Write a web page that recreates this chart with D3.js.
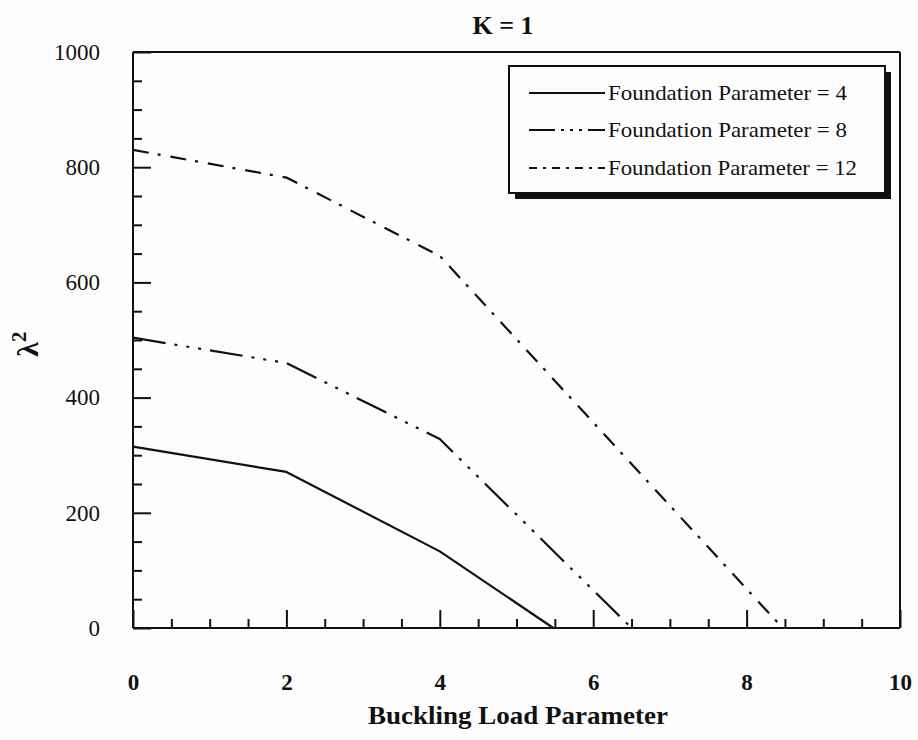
<!DOCTYPE html>
<html>
<head>
<meta charset="utf-8">
<script src="https://cdn.jsdelivr.net/npm/d3@7"></script>
<style>
  html, body { margin: 0; padding: 0; background: #fdfdfd; }
  svg { display: block; }
  text { font-family: "Liberation Serif", "Times New Roman", serif; fill: #111; }
</style>
</head>
<body>
<div id="chart"></div>
<script>
// Buckling load parameter vs. lambda^2 for three foundation parameters
const titleText = "K = 1";
const xLabel = "Buckling Load Parameter";
const xTicks = [0, 2, 4, 6, 8, 10];
const yTicks = [0, 200, 400, 600, 800, 1000];

const load4 = [0, 2, 4, 5.48];
const lambda4 = [315, 271, 133, 0];
const load8 = [0, 2, 4, 6.5];
const lambda8 = [504, 460, 328, 0];
const load12 = [0, 2, 4, 8.47];
const lambda12 = [830, 782, 646, 0];

const seriesNames = ["Foundation Parameter = 4", "Foundation Parameter = 8", "Foundation Parameter = 12"];
const seriesDash = [null, "33,9,3,9,3,9,3,9", "16,9,3,10"];
const legendDash = [null, "26,6,3,6,3,6,3,6", "8,6,3,6"];

const W = 918, H = 740;
const m = { left: 133, right: 18, top: 52, bottom: 112 };

const svg = d3.select("#chart").append("svg").attr("width", W).attr("height", H);

const x = d3.scaleLinear().domain([0, 10]).range([m.left, W - m.right]);
const y = d3.scaleLinear().domain([0, 1000]).range([H - m.bottom, m.top]);

const ink = "#111";

// frame: top and right edges
svg.append("line").attr("x1", x(0)).attr("x2", x(10)).attr("y1", y(1000)).attr("y2", y(1000))
  .attr("stroke", ink).attr("stroke-width", 2);
svg.append("line").attr("x1", x(10)).attr("x2", x(10)).attr("y1", y(1000)).attr("y2", y(0))
  .attr("stroke", ink).attr("stroke-width", 2);

// x axis: minor ticks every 0.5, major every 2, pointing inward
const xAxisG = svg.append("g").attr("transform", `translate(0,${y(0)})`);
xAxisG.call(d3.axisTop(x).tickValues(d3.range(0, 10.01, 0.5)).tickSize(9).tickFormat(""));
xAxisG.call(g => g.selectAll(".tick line").filter(d => Math.abs(d % 2) < 1e-9).attr("y2", -18));
xAxisG.selectAll(".domain").attr("d", `M${x(0)},0H${x(10)}`);
xAxisG.selectAll("path, line").attr("stroke", ink).attr("stroke-width", 2);

const xLab = svg.append("g").attr("transform", `translate(0,${y(0) + 62})`)
  .call(d3.axisBottom(x).tickValues(xTicks).tickSize(0).tickPadding(0).tickFormat(d3.format("d")));
xLab.select(".domain").remove();
xLab.selectAll("text").attr("font-size", 23).attr("font-weight", "bold")
  .style("font-family", "Liberation Serif, serif").attr("fill", ink).attr("dy", 0);

// y axis: minor ticks every 50, major every 200, pointing inward
const yAxisG = svg.append("g").attr("transform", `translate(${x(0)},0)`);
yAxisG.call(d3.axisRight(y).tickValues(d3.range(0, 1000.1, 50)).tickSize(9).tickFormat(""));
yAxisG.call(g => g.selectAll(".tick line").filter(d => d % 200 === 0).attr("x2", 18));
yAxisG.selectAll(".domain").attr("d", `M0,${y(0)}V${y(1000)}`);
yAxisG.selectAll("path, line").attr("stroke", ink).attr("stroke-width", 2);

const yLab = svg.append("g").attr("transform", `translate(${x(0) - 33},0)`)
  .call(d3.axisLeft(y).tickValues(yTicks).tickSize(0).tickPadding(0).tickFormat(d3.format("d")));
yLab.select(".domain").remove();
yLab.selectAll("text").attr("font-size", 23)
  .style("font-family", "Liberation Serif, serif").attr("fill", ink);

// data lines
const line = d3.line().x(d => x(d[0])).y(d => y(d[1]));
const series = [
  d3.zip(load4, lambda4),
  d3.zip(load8, lambda8),
  d3.zip(load12, lambda12)
];
series.forEach((pts, i) => {
  svg.append("path").datum(pts).attr("d", line)
    .attr("fill", "none").attr("stroke", ink).attr("stroke-width", 2.2)
    .attr("stroke-linejoin", "round")
    .attr("stroke-dasharray", seriesDash[i]);
});

// titles
svg.append("text").attr("x", 503).attr("y", 34).attr("text-anchor", "middle")
  .attr("font-size", 26).attr("font-weight", "bold").text(titleText);
svg.append("text").attr("x", 518).attr("y", 724).attr("text-anchor", "middle")
  .attr("font-size", 26).attr("font-weight", "bold")
  .attr("textLength", 300).attr("lengthAdjust", "spacingAndGlyphs").text(xLabel);

const yTitle = svg.append("text").attr("transform", "translate(38,344) rotate(-90)")
  .attr("text-anchor", "middle").attr("font-size", 30).attr("font-weight", "bold");
yTitle.append("tspan").text("λ");
yTitle.append("tspan").attr("font-size", 21).attr("dy", -12).text("2");

// legend box with drop shadow
const lg = { x: 509, y: 66, w: 376, h: 127 };
svg.append("rect").attr("x", lg.x + 6).attr("y", lg.y + 6).attr("width", lg.w).attr("height", lg.h)
  .attr("fill", ink);
svg.append("rect").attr("x", lg.x).attr("y", lg.y).attr("width", lg.w).attr("height", lg.h)
  .attr("fill", "#fdfdfd").attr("stroke", ink).attr("stroke-width", 2);

const rowY = [93, 130, 168];
const rowW = [239, 239, 249];
seriesNames.forEach((name, i) => {
  svg.append("line").attr("x1", 529).attr("x2", 605).attr("y1", rowY[i]).attr("y2", rowY[i])
    .attr("stroke", ink).attr("stroke-width", 2).attr("stroke-dasharray", legendDash[i]);
  svg.append("text").attr("x", 608).attr("y", rowY[i] + 7).attr("font-size", 21)
    .attr("textLength", rowW[i]).attr("lengthAdjust", "spacingAndGlyphs").text(name);
});
</script>
</body>
</html>
